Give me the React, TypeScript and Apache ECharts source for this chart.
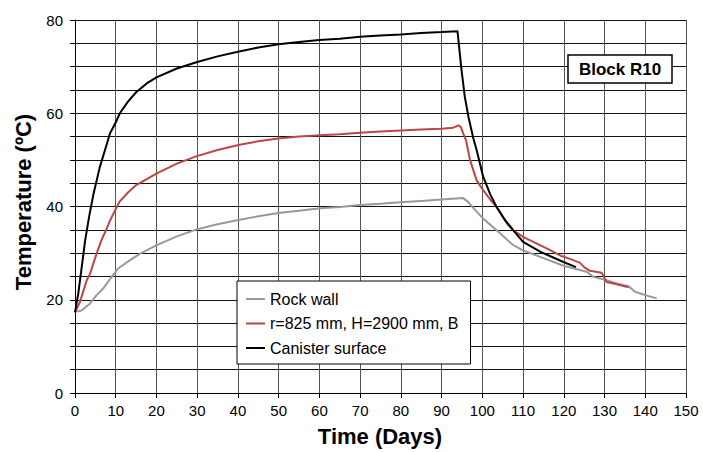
import React, { useEffect, useRef } from "react";
import * as echarts from "echarts";

const xTicks = [0, 10, 20, 30, 40, 50, 60, 70, 80, 90, 100, 110, 120, 130, 140, 150];
const yTickLabels = [0, 20, 40, 60, 80];

const seriesNames = ["Rock wall", "r=825 mm, H=2900 mm, B", "Canister surface"];
const boxLabel = "Block R10";
const xTitle = "Time (Days)";
const yTitle = "Temperature (ºC)";

const rockDays = [0, 1.6, 3.7, 5.3, 6.9, 8.5, 10.6, 13.5, 16, 20.1, 25, 29.9, 35, 40.1, 45, 49.9, 55, 60.2, 65, 70, 75, 79.8, 85, 90, 95.3, 96.5, 98, 100.2, 103.5, 107.6, 110, 114.2, 119.9, 125.6, 127.3, 130.5, 133, 135.9, 137.5, 140, 142.8];
const rockTemp = [17.4, 17.7, 19.2, 21, 22.4, 24.3, 26.7, 28.5, 29.9, 31.7, 33.6, 35.1, 36.2, 37.1, 37.9, 38.6, 39.1, 39.6, 39.9, 40.3, 40.6, 40.9, 41.2, 41.5, 41.8, 41, 39.5, 37.4, 34.9, 31.7, 30.6, 29.2, 27.3, 26.0, 24.9, 24.2, 23.5, 22.9, 21.7, 21.0, 20.3];

const bufferDays = [0, 1.2, 2.9, 3.7, 5.3, 6.5, 7.6, 8.6, 10.9, 13, 15, 20.1, 25, 29.9, 35, 40.1, 45, 49.9, 55, 60.2, 65, 70, 75, 80, 85, 90, 92.9, 94.1, 94.7, 95.3, 96, 97, 98.6, 100.2, 102, 103.5, 106, 107.6, 110, 113, 115.8, 119.1, 122, 124, 125, 126.4, 129.3, 130.5, 132.2, 135.9];
const bufferTemp = [17.3, 19.5, 24.2, 25.6, 29.9, 32.8, 34.9, 37.0, 41, 43, 44.6, 47.1, 49.2, 50.8, 52.1, 53.2, 54, 54.6, 55, 55.3, 55.5, 55.8, 56.1, 56.3, 56.5, 56.7, 56.9, 57.4, 57.1, 55.7, 54.2, 49.9, 45.6, 43.5, 41.4, 39.9, 36.4, 34.9, 33.5, 32.2, 31.0, 29.5, 28.6, 27.9, 27.0, 26.2, 25.8, 23.8, 23.5, 22.7];

const canisterDays = [0, 0.8, 1.5, 2.5, 3.5, 4.5, 6.1, 7.5, 8.6, 10, 11, 13, 15, 17.6, 20, 25, 30, 35, 40, 45, 50, 55, 60, 65, 70, 75, 80, 85, 90, 93.9, 94.9, 95.7, 96.6, 97.8, 98.6, 100.2, 102, 103.5, 105.5, 107.6, 110, 114.2, 119.9, 123];
const canisterTemp = [17.3, 21.3, 26, 32.8, 38, 42.5, 48.5, 52.5, 55.7, 58, 60, 62.5, 64.5, 66.4, 67.7, 69.6, 71, 72.2, 73.2, 74.1, 74.8, 75.3, 75.7, 76, 76.4, 76.7, 76.9, 77.2, 77.4, 77.6, 69.2, 63.5, 59.2, 54.6, 52.1, 46.4, 42.5, 39.9, 37.2, 34.9, 32.4, 30.3, 28.1, 27.0];

const zip = (xs: number[], ys: number[]) => xs.map((x, i) => [x, ys[i]]);

const FONT = "'Liberation Sans', Arial, Helvetica, sans-serif";

export default function App() {
  const ref = useRef<HTMLDivElement>(null);
  useEffect(() => {
    if (!ref.current) return;
    const chart = echarts.init(ref.current, undefined, { renderer: "svg" });
    const lineSeries = (name: string, data: number[][], color: string) => ({
      name,
      type: "line",
      data,
      showSymbol: false,
      symbol: "none",
      lineStyle: { color, width: 2 },
      itemStyle: { color },
      z: 3,
    });
    chart.setOption({
      animation: false,
      backgroundColor: "#fff",
      textStyle: { fontFamily: FONT },
      grid: { left: 75, right: 17, top: 20, bottom: 59, containLabel: false },
      xAxis: {
        type: "value",
        min: xTicks[0],
        max: xTicks[xTicks.length - 1],
        interval: 10,
        axisLine: { show: true, lineStyle: { color: "#000", width: 1 } },
        axisTick: { show: true, length: 5, inside: false, lineStyle: { color: "#000" } },
        axisLabel: { fontSize: 15, color: "#000", margin: 10, fontFamily: FONT },
        splitLine: { show: true, lineStyle: { color: "#555", width: 1 } },
      },
      yAxis: {
        type: "value",
        min: 0,
        max: 80,
        interval: 5,
        axisLine: { show: true, lineStyle: { color: "#000", width: 1 } },
        axisTick: { show: true, length: 5, inside: false, lineStyle: { color: "#000" } },
        axisLabel: {
          fontSize: 15,
          color: "#000",
          margin: 12,
          fontFamily: FONT,
          formatter: (v: number) => (yTickLabels.includes(v) ? String(v) : ""),
        },
        splitLine: { show: true, lineStyle: { color: "#111", width: 1 } },
      },
      legend: {
        show: true,
        orient: "vertical",
        left: 237,
        top: 281,
        backgroundColor: "#fff",
        borderColor: "#000",
        borderWidth: 1,
        borderRadius: 0,
        padding: [10, 12, 8, 9],
        itemGap: 8.5,
        itemWidth: 19,
        itemHeight: 2,
        icon: "rect",
        textStyle: { fontSize: 16, color: "#000", fontFamily: FONT, lineHeight: 16 },
        data: seriesNames,
      },
      graphic: [
        {
          type: "text",
          x: 23,
          y: 202,
          rotation: Math.PI / 2,
          style: {
            text: yTitle,
            font: `bold 22px ${FONT}`,
            fill: "#000",
            textAlign: "center",
            textVerticalAlign: "middle",
          },
          silent: true,
        },
        {
          type: "text",
          x: 380,
          y: 436,
          style: {
            text: xTitle,
            font: `bold 22px ${FONT}`,
            fill: "#000",
            textAlign: "center",
            textVerticalAlign: "middle",
          },
          silent: true,
        },
        {
          type: "rect",
          shape: { x: 568, y: 55, width: 104, height: 28 },
          style: { fill: "#fff", stroke: "#000", lineWidth: 1.5 },
          z: 10,
          silent: true,
        },
        {
          type: "text",
          x: 620,
          y: 69.5,
          style: {
            text: boxLabel,
            font: `bold 17px ${FONT}`,
            fill: "#000",
            textAlign: "center",
            textVerticalAlign: "middle",
          },
          z: 11,
          silent: true,
        },
      ],
      series: [
        lineSeries(seriesNames[0], zip(rockDays, rockTemp), "#999999"),
        lineSeries(seriesNames[1], zip(bufferDays, bufferTemp), "#BF4545"),
        lineSeries(seriesNames[2], zip(canisterDays, canisterTemp), "#000000"),
      ],
    });
    return () => chart.dispose();
  }, []);
  return <div ref={ref} style={{ width: 703, height: 452, position: "absolute", left: 0, top: 0 }} />;
}
